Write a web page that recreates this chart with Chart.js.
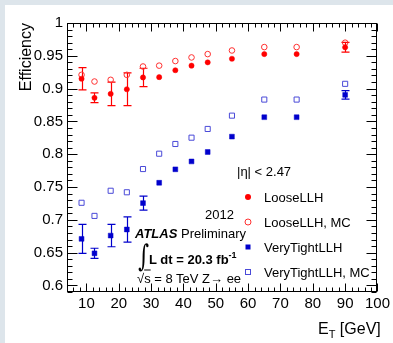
<!DOCTYPE html>
<html><head><meta charset="utf-8">
<script src="https://cdn.jsdelivr.net/npm/chart.js@4.4.1/dist/chart.umd.min.js"></script>
<style>
html,body{margin:0;padding:0;}
body{width:393px;height:343px;position:relative;overflow:hidden;
 background:#dde5eb;
 font-family:"Liberation Sans",Arial,Helvetica,sans-serif;}
#panel{position:absolute;left:5px;top:5px;width:388px;height:338px;background:#fff;}
#c{position:absolute;left:0;top:0;}
.t{position:absolute;white-space:nowrap;color:#000;line-height:1;transform:translateY(-50%);}
.lg{font-size:13px;left:264px;}
.mk{position:absolute;box-sizing:border-box;transform:translate(-50%,-50%);}
</style></head><body>
<div id="panel"></div>
<canvas id="c" width="393" height="343"></canvas>

<div class="t" style="left:237px;top:171px;font-size:13px;">|η| &lt; 2.47</div>

<div class="mk" style="left:248px;top:197px;width:6px;height:6px;border-radius:50%;background:#ff0000;"></div>
<div class="t lg" style="top:197px;">LooseLLH</div>
<div class="mk" style="left:248px;top:222px;width:7px;height:7px;border-radius:50%;border:1px solid #ff3030;"></div>
<div class="t lg" style="top:222px;">LooseLLH, MC</div>
<div class="mk" style="left:248px;top:247px;width:5px;height:5px;background:#0000cc;"></div>
<div class="t lg" style="top:247px;">VeryTightLLH</div>
<div class="mk" style="left:248px;top:272px;width:6px;height:6px;border:1px solid #4a4ad8;"></div>
<div class="t lg" style="top:272px;">VeryTightLLH, MC</div>

<div class="t" style="left:205px;top:214px;font-size:13px;">2012</div>
<div class="t" style="left:135px;top:233px;font-size:13px;"><b><i>ATLAS</i></b> Preliminary</div>
<div class="t" style="left:136px;top:256px;font-size:30px;font-family:'DejaVu Serif',serif;transform:translateY(-50%) scaleX(0.7);">∫</div>
<div class="t" style="left:149px;top:258px;font-size:13px;font-weight:bold;">L dt = 20.3 fb<sup style="font-size:9px;vertical-align:6px;">-1</sup></div>
<div class="t" style="left:137px;top:278px;font-size:13px;">√<span style="text-decoration:overline;">s</span> = 8 TeV Z→ ee</div>

<div class="t" style="left:318px;top:330px;font-size:16px;">E<sub style="font-size:11px;vertical-align:-4px;">T</sub> [GeV]</div>

<script>
// ---- data ----
const etBins = [8.5, 12.5, 17.5, 22.5, 27.5, 32.5, 37.5, 42.5, 47.5, 55, 65, 75, 90];
const looseLLH = [0.915, 0.886, 0.892, 0.899, 0.917, 0.9175, 0.928, 0.935, 0.940, 0.9455, 0.9526, 0.9526, 0.963];
const looseLLHErr = [0.017, 0.0075, 0.018, 0.025, 0.014, 0.004, 0.002, 0.002, 0.002, 0.002, 0.004, 0.004, 0.0075];
const looseLLHMC = [0.921, 0.9108, 0.9134, 0.921, 0.9337, 0.935, 0.942, 0.9475, 0.9526, 0.9581, 0.9633, 0.9633, 0.970];
const veryTightLLH = [0.671, 0.649, 0.676, 0.6853, 0.7255, 0.7565, 0.777, 0.789, 0.8034, 0.8268, 0.8564, 0.8564, 0.8905];
const veryTightLLHErr = [0.022, 0.0077, 0.017, 0.0193, 0.0107, 0.004, 0.002, 0.002, 0.002, 0.002, 0.004, 0.004, 0.0065];
const veryTightLLHMC = [0.726, 0.706, 0.7443, 0.742, 0.7774, 0.8008, 0.8156, 0.8252, 0.8385, 0.8588, 0.8833, 0.8833, 0.9073];
const xTickLabels = [10, 20, 30, 40, 50, 60, 70, 80, 90, 100];
const yTickLabels = [0.6, 0.65, 0.7, 0.75, 0.8, 0.85, 0.9, 0.95, 1];

const pts = (ys) => etBins.map((x, i) => ({x: x, y: ys[i]}));

const errorBars = {
  id: 'errorBars',
  beforeDatasetsDraw(chart) {
    const ctx = chart.ctx, xs = chart.scales.x, ys = chart.scales.y;
    chart.data.datasets.forEach((ds) => {
      if (!ds.errors) return;
      ctx.save();
      ctx.strokeStyle = ds.borderColor;
      ctx.lineWidth = 1.2;
      ds.data.forEach((p, i) => {
        const e = ds.errors[i];
        const px = Math.round(xs.getPixelForValue(p.x)) + 0.5;
        const y1 = ys.getPixelForValue(p.y + e), y2 = ys.getPixelForValue(p.y - e);
        if (y2 - y1 < 6) return;
        ctx.beginPath();
        ctx.moveTo(px, y1); ctx.lineTo(px, y2);
        ctx.moveTo(px - 4, y1); ctx.lineTo(px + 4, y1);
        ctx.moveTo(px - 4, y2); ctx.lineTo(px + 4, y2);
        ctx.stroke();
      });
      ctx.restore();
    });
  }
};

const frameTicks = {
  id: 'frameTicks',
  afterDraw(chart) {
    const ctx = chart.ctx, xs = chart.scales.x, ys = chart.scales.y;
    const a = chart.chartArea;
    const L = Math.round(a.left) + 0.5, R = Math.round(a.right) - 0.5;
    const T = Math.round(a.top) + 0.5, B = Math.round(a.bottom) - 0.5;
    ctx.save();
    ctx.strokeStyle = '#000';
    ctx.lineWidth = 1;
    ctx.beginPath();
    for (let v = 4; v <= 100; v += 2) {
      const major = v % 10 === 0;
      const len = major ? 8 : 4;
      const px = Math.round(xs.getPixelForValue(v)) + 0.5;
      ctx.moveTo(px, B); ctx.lineTo(px, B - len);
      ctx.moveTo(px, T); ctx.lineTo(px, T + len);
    }
    for (let k = 59; k <= 100; k++) {
      const v = k / 100;
      const major = k % 5 === 0;
      const len = major ? 10 : 5;
      const py = Math.round(ys.getPixelForValue(v)) + 0.5;
      ctx.moveTo(L, py); ctx.lineTo(L + len, py);
      ctx.moveTo(R, py); ctx.lineTo(R - len, py);
    }
    ctx.stroke();
    ctx.strokeRect(L, T, R - L, B - T);
    ctx.restore();
  }
};

new Chart(document.getElementById('c'), {
  type: 'scatter',
  data: {
    datasets: [
      {label: 'LooseLLH', data: pts(looseLLH), errors: looseLLHErr, pointStyle: 'circle',
       pointRadius: 2.6, borderWidth: 0.5, backgroundColor: '#ff0000', borderColor: '#ff0000'},
      {label: 'LooseLLH, MC', data: pts(looseLLHMC), pointStyle: 'circle',
       pointRadius: 2.8, borderWidth: 1, backgroundColor: 'rgba(0,0,0,0)', borderColor: '#ff3030'},
      {label: 'VeryTightLLH', data: pts(veryTightLLH), errors: veryTightLLHErr, pointStyle: 'rect',
       pointRadius: 3.4, borderWidth: 0.5, backgroundColor: '#0000cc', borderColor: '#0000cc'},
      {label: 'VeryTightLLH, MC', data: pts(veryTightLLHMC), pointStyle: 'rect',
       pointRadius: 3.6, borderWidth: 1, backgroundColor: 'rgba(0,0,0,0)', borderColor: '#4a4ad8'}
    ]
  },
  options: {
    responsive: false,
    animation: false,
    devicePixelRatio: 1,
    layout: {padding: {left: 0, top: 23, right: 15, bottom: 0}},
    plugins: {legend: {display: false}, tooltip: {enabled: false}},
    scales: {
      x: {
        type: 'linear', min: 4, max: 100,
        afterBuildTicks: (s) => { s.ticks = xTickLabels.map(v => ({value: v})); },
        afterFit: (s) => { s.height = 51; },
        grid: {display: false, drawTicks: false},
        border: {display: false},
        ticks: {autoSkip: false, maxRotation: 0, padding: 3, color: '#000',
                font: {family: '"Liberation Sans", Arial, sans-serif', size: 15},
                callback: (v) => String(v)}
      },
      y: {
        type: 'linear', min: 0.59, max: 1,
        afterBuildTicks: (s) => { s.ticks = yTickLabels.map(v => ({value: v})); },
        afterFit: (s) => { s.width = 67; },
        grid: {display: false, drawTicks: false},
        border: {display: false},
        ticks: {autoSkip: false, padding: 4, color: '#000',
                font: {family: '"Liberation Sans", Arial, sans-serif', size: 15},
                callback: (v) => String(Math.round(v * 100) / 100)},
        title: {display: true, text: 'Efficiency', align: 'end', color: '#000',
                padding: {top: 17, bottom: 0},
                font: {family: '"Liberation Sans", Arial, sans-serif', size: 16}}
      }
    }
  },
  plugins: [errorBars, frameTicks]
});
</script>
</body></html>
